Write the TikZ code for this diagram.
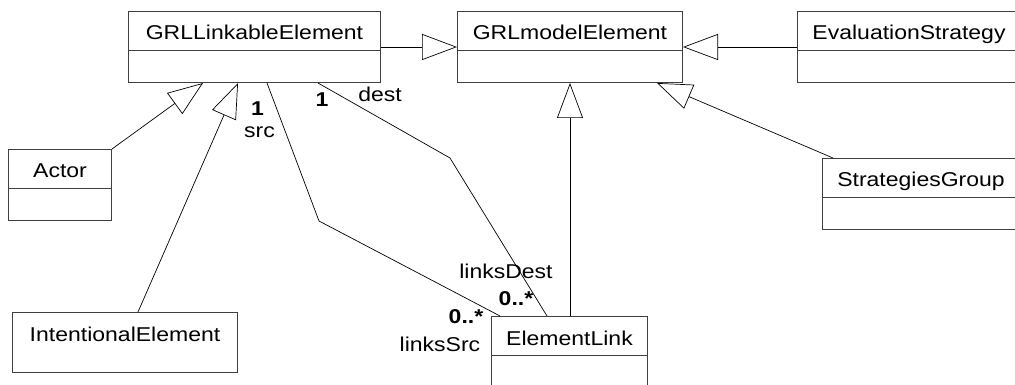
\documentclass[tikz,border=0pt]{standalone}
\usepackage{fontspec}
\setmainfont{Liberation Sans}[FakeStretch=1.15]
\usetikzlibrary{arrows.meta}

\tikzset{
  umlclass/.style={draw=black!75, line width=1pt, fill=white, anchor=north west,
    inner xsep=0pt, inner ysep=0pt, text height=28.5pt, text depth=#1,
    font=\fontsize{20}{24}\selectfont},
  umlclass/.default=42.5pt,
  divided/.style={path picture={
    \draw[black!75, line width=1pt]
      ([yshift=-39pt]path picture bounding box.north west) --
      ([yshift=-39pt]path picture bounding box.north east);}},
  classname/.style={anchor=base, inner sep=0pt, font=\fontsize{20}{24}\selectfont},
  inherit/.style={draw=black, line width=0.7pt,
    -{Triangle[length=35pt, width=26pt, fill=white, line width=0.7pt]}},
  assoc/.style={draw=black, line width=0.7pt},
  role/.style={anchor=base, inner sep=0pt, font=\fontsize{20}{24}\selectfont},
  mult/.style={role, font=\fontsize{20}{24}\selectfont\bfseries},
}

\begin{document}
\begin{tikzpicture}[x=1pt, y=-1pt]
  \useasboundingbox (0,0) rectangle (1015,385);
  \clip (0,0) rectangle (1015,385);

  % classes
  \node[umlclass, divided, minimum width=252pt] (lnk) at (128,11) {GRLLinkableElement};
  \node[umlclass, divided, minimum width=225pt] (mdl) at (457,11) {GRLmodelElement};
  \node[umlclass, divided, minimum width=240pt] (evs) at (797,11) {};
  \node[classname] (evst) at (909,39.5) {EvaluationStrategy};
  \node[umlclass, divided, minimum width=103pt] (act) at (8,149) {Actor};
  \node[umlclass=31pt, minimum width=225pt] (int) at (12,312) {IntentionalElement};
  \node[umlclass, divided, minimum width=220pt] (str) at (822,158) {};
  \node[classname] (strt) at (921,186.5) {StrategiesGroup};
  \node[umlclass, divided, minimum width=156pt] (elk) at (491,316) {ElementLink};

  % generalizations
  \draw[inherit] (lnk.east |- 0,47) -- (mdl.west |- 0,47);
  \draw[inherit] (evs.west |- 0,47) -- (mdl.east |- 0,47);
  \draw[inherit] ([xshift=11pt]str.north west) -- ([xshift=-26pt]mdl.south east);
  \draw[inherit] (elk.north -| mdl.south) -- (mdl.south);
  \draw[inherit] (act.north east) -- ([xshift=75pt]lnk.south west);
  \draw[inherit] ([xshift=126pt]int.north west) -- ([xshift=110pt]lnk.south west);

  % associations
  \draw[assoc] ([xshift=139pt]lnk.south west) -- (319,221) -- ([xshift=9pt]elk.north west);
  \draw[assoc] ([xshift=190pt]lnk.south west) -- (450,158) -- ([xshift=56pt]elk.north west);

  % role names and multiplicities
  \node[mult] (m1) at (257.5,116) {1};
  \node[role] (r1) at (259.5,138) {src};
  \node[mult] (m2) at (322,107) {1};
  \node[role] (r2) at (380,102) {dest};
  \node[role] (r3) at (506,278) {linksDest};
  \node[mult] (m3) at (516,305) {0..*};
  \node[mult] (m4) at (466,323) {0..*};
  \node[role] (r4) at (440,351) {linksSrc};
\end{tikzpicture}
\end{document}
